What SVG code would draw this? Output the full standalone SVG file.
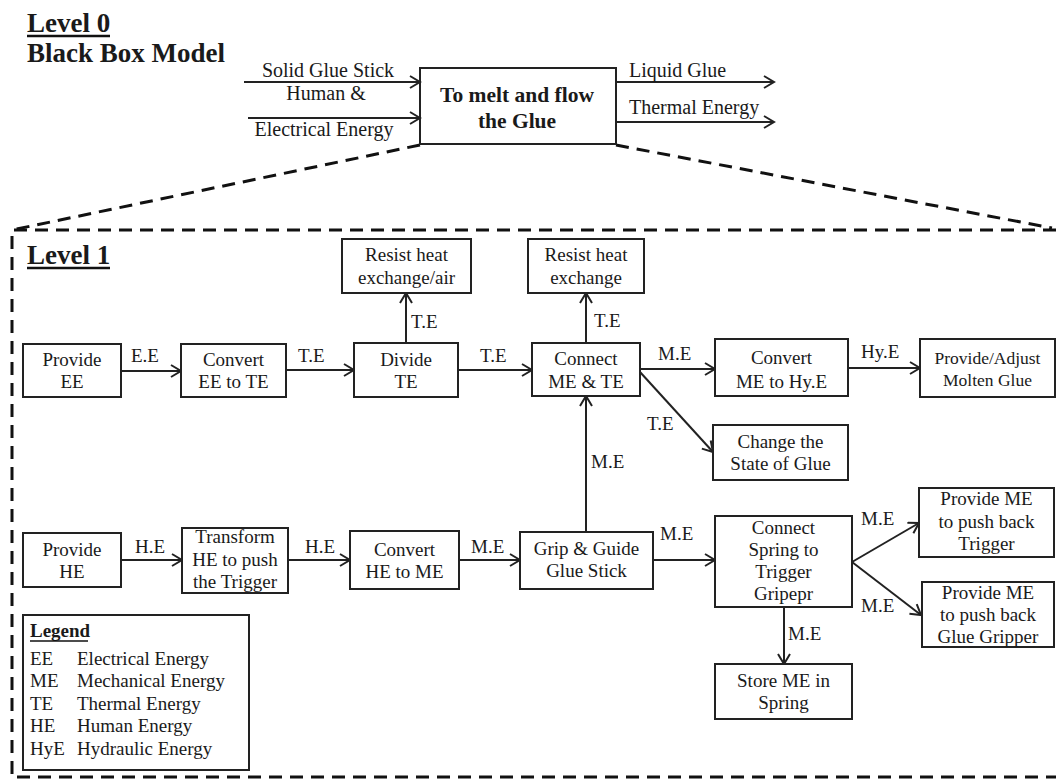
<svg xmlns="http://www.w3.org/2000/svg" width="1056" height="780" viewBox="0 0 1056 780">
<defs>
<marker id="arr" markerUnits="userSpaceOnUse" markerWidth="14" markerHeight="14" viewBox="0 0 14 14" refX="12" refY="7" orient="auto">
<path d="M2,1 L12,7 L2,13" fill="none" stroke="#222" stroke-width="2"/>
</marker>
<style>
.bx{fill:#fff;stroke:#222;stroke-width:2}
.t{font-family:"Liberation Serif","Times New Roman","DejaVu Serif",serif;font-size:19px;fill:#1a1a1a;text-anchor:middle}
.lb{font-family:"Liberation Serif","Times New Roman","DejaVu Serif",serif;font-size:19px;fill:#1a1a1a}
.h{font-family:"Liberation Serif","Times New Roman","DejaVu Serif",serif;font-size:27px;font-weight:bold;fill:#1a1a1a}
.l0{font-family:"Liberation Serif","Times New Roman","DejaVu Serif",serif;font-size:20px;fill:#1a1a1a}
.c{stroke:#222;stroke-width:2;fill:none;marker-end:url(#arr)}
.d{stroke:#111;stroke-width:3;fill:none;stroke-dasharray:13 8}
.ul{stroke:#111;stroke-width:2.5}
</style>
</defs>
<rect width="1056" height="780" fill="#fff"/>

<g id="headings">
<text class="h" x="27" y="32">Level 0</text>
<line class="ul" x1="27" y1="36" x2="110" y2="36"/>
<text class="h" x="27" y="62">Black Box Model</text>
<text class="h" x="27" y="264">Level 1</text>
<line class="ul" x1="27" y1="268" x2="110" y2="268"/>
</g>

<g id="frames">
<path class="d" d="M420,145 L12,230"/>
<path class="d" d="M616,145 L1052,228"/>
<path class="d" d="M1056,230 H12 V777 H1056"/>
</g>

<g id="black-box">
<rect class="bx" x="420" y="68" width="196" height="76"/>
<text class="t" x="517" y="102" style="font-weight:bold;font-size:21.5px">To melt and flow</text>
<text class="t" x="517" y="128" style="font-weight:bold;font-size:21.5px">the Glue</text>
</g>

<g id="connectors">
<line class="c" x1="244" y1="82" x2="420" y2="82"/>
<line class="c" x1="248" y1="118" x2="420" y2="118"/>
<line class="c" x1="616" y1="82" x2="774" y2="82"/>
<line class="c" x1="616" y1="122" x2="774" y2="122"/>
<line class="c" x1="121" y1="371" x2="181" y2="371"/>
<line class="c" x1="286" y1="370" x2="354" y2="370"/>
<line class="c" x1="406" y1="343" x2="406" y2="293"/>
<line class="c" x1="458" y1="370" x2="532" y2="370"/>
<line class="c" x1="586" y1="343" x2="586" y2="293"/>
<line class="c" x1="640" y1="369" x2="715" y2="369"/>
<line class="c" x1="848" y1="368" x2="920" y2="368"/>
<line class="c" x1="640" y1="372" x2="713" y2="452"/>
<line class="c" x1="586" y1="532" x2="586" y2="396"/>
<line class="c" x1="121" y1="560" x2="182" y2="560"/>
<line class="c" x1="288" y1="560" x2="350" y2="560"/>
<line class="c" x1="459" y1="560" x2="520" y2="560"/>
<line class="c" x1="653" y1="560" x2="715" y2="560"/>
<line class="c" x1="852" y1="562" x2="919" y2="523"/>
<line class="c" x1="852" y1="562" x2="921" y2="615"/>
<line class="c" x1="784" y1="607" x2="784" y2="664"/>
</g>

<g id="connector-labels">
<text class="l0" x="328" y="77" text-anchor="middle">Solid Glue Stick</text>
<text class="l0" x="326" y="100" text-anchor="middle">Human &amp;</text>
<text class="l0" x="324" y="136" text-anchor="middle">Electrical Energy</text>
<text class="l0" x="629" y="77">Liquid Glue</text>
<text class="l0" x="629" y="114">Thermal Energy</text>
<text class="lb" x="131" y="362">E.E</text>
<text class="lb" x="298" y="362">T.E</text>
<text class="lb" x="411" y="328">T.E</text>
<text class="lb" x="480" y="362">T.E</text>
<text class="lb" x="594" y="327">T.E</text>
<text class="lb" x="658" y="360">M.E</text>
<text class="lb" x="861" y="358">Hy.E</text>
<text class="lb" x="647" y="430">T.E</text>
<text class="lb" x="591" y="468">M.E</text>
<text class="lb" x="135" y="553">H.E</text>
<text class="lb" x="305" y="553">H.E</text>
<text class="lb" x="471" y="553">M.E</text>
<text class="lb" x="660" y="540">M.E</text>
<text class="lb" x="861" y="525">M.E</text>
<text class="lb" x="861" y="612">M.E</text>
<text class="lb" x="788" y="640">M.E</text>
</g>

<g id="provide-ee">
<rect class="bx" x="23" y="344" width="98" height="53"/>
<text class="t" x="72" y="366">Provide</text>
<text class="t" x="72" y="388">EE</text>
</g>
<g id="convert-ee-te">
<rect class="bx" x="181" y="344" width="105" height="53"/>
<text class="t" x="233.5" y="366">Convert</text>
<text class="t" x="233.5" y="388">EE to TE</text>
</g>
<g id="divide-te">
<rect class="bx" x="354" y="343" width="104" height="54"/>
<text class="t" x="406" y="366">Divide</text>
<text class="t" x="406" y="388">TE</text>
</g>
<g id="resist-air">
<rect class="bx" x="342" y="239" width="129" height="54"/>
<text class="t" x="406.5" y="261">Resist heat</text>
<text class="t" x="406.5" y="284">exchange/air</text>
</g>
<g id="connect-me-te">
<rect class="bx" x="532" y="343" width="108" height="53"/>
<text class="t" x="586" y="365">Connect</text>
<text class="t" x="586" y="388">ME &amp; TE</text>
</g>
<g id="resist-heat">
<rect class="bx" x="528" y="239" width="116" height="54"/>
<text class="t" x="586" y="261">Resist heat</text>
<text class="t" x="586" y="284">exchange</text>
</g>
<g id="convert-me-hye">
<rect class="bx" x="715" y="339" width="133" height="57"/>
<text class="t" x="781.5" y="364">Convert</text>
<text class="t" x="781.5" y="388">ME to Hy.E</text>
</g>
<g id="provide-adjust">
<rect class="bx" x="920" y="339" width="135" height="58"/>
<text class="t" x="987.5" y="364" style="font-size:17.5px">Provide/Adjust</text>
<text class="t" x="987.5" y="386" style="font-size:17.5px">Molten Glue</text>
</g>
<g id="change-state">
<rect class="bx" x="713" y="425" width="135" height="55"/>
<text class="t" x="780.5" y="448">Change  the</text>
<text class="t" x="780.5" y="470">State of Glue</text>
</g>
<g id="provide-he">
<rect class="bx" x="23" y="533" width="98" height="54"/>
<text class="t" x="72" y="556">Provide</text>
<text class="t" x="72" y="578">HE</text>
</g>
<g id="transform">
<rect class="bx" x="182" y="528" width="106" height="65"/>
<text class="t" x="235" y="543">Transform</text>
<text class="t" x="235" y="566">HE to push</text>
<text class="t" x="235" y="588">the Trigger</text>
</g>
<g id="convert-he-me">
<rect class="bx" x="350" y="531" width="109" height="58"/>
<text class="t" x="404.5" y="556">Convert</text>
<text class="t" x="404.5" y="578">HE to ME</text>
</g>
<g id="grip-guide">
<rect class="bx" x="520" y="532" width="133" height="57"/>
<text class="t" x="586.5" y="555">Grip &amp; Guide</text>
<text class="t" x="586.5" y="577">Glue Stick</text>
</g>
<g id="connect-spring">
<rect class="bx" x="715" y="516" width="137" height="91"/>
<text class="t" x="783.5" y="534">Connect</text>
<text class="t" x="783.5" y="556">Spring  to</text>
<text class="t" x="783.5" y="578">Trigger</text>
<text class="t" x="783.5" y="600">Gripepr</text>
</g>
<g id="store-me">
<rect class="bx" x="715" y="664" width="137" height="55"/>
<text class="t" x="783.5" y="687">Store ME in</text>
<text class="t" x="783.5" y="709">Spring</text>
</g>
<g id="provide-me-trigger">
<rect class="bx" x="919" y="488" width="135" height="69"/>
<text class="t" x="986.5" y="505">Provide ME</text>
<text class="t" x="986.5" y="528">to push back</text>
<text class="t" x="986.5" y="550">Trigger</text>
</g>
<g id="provide-me-gripper">
<rect class="bx" x="922" y="582" width="132" height="65"/>
<text class="t" x="988" y="599">Provide ME</text>
<text class="t" x="988" y="621">to push back</text>
<text class="t" x="988" y="643">Glue Gripper</text>
</g>

<g id="legend">
<rect class="bx" x="23" y="615" width="226" height="155"/>
<text class="lb" x="30" y="637" style="font-weight:bold">Legend</text>
<line x1="30" y1="641" x2="88" y2="641" stroke="#111" stroke-width="1.5"/>
<text class="lb" x="30" y="665">EE</text><text class="lb" x="77" y="665">Electrical Energy</text>
<text class="lb" x="30" y="687">ME</text><text class="lb" x="77" y="687">Mechanical Energy</text>
<text class="lb" x="30" y="710">TE</text><text class="lb" x="77" y="710">Thermal Energy</text>
<text class="lb" x="30" y="732">HE</text><text class="lb" x="77" y="732">Human Energy</text>
<text class="lb" x="30" y="755">HyE</text><text class="lb" x="77" y="755">Hydraulic Energy</text>
</g>
</svg>
